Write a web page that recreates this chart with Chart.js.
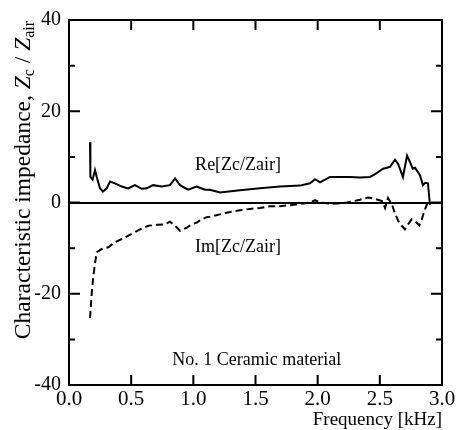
<!DOCTYPE html>
<html>
<head>
<meta charset="utf-8">
<script src="https://cdn.jsdelivr.net/npm/chart.js@4.4.1/dist/chart.umd.min.js"></script>
<style>
  html, body { margin: 0; padding: 0; background: #fff; }
  #wrap { width: 463px; height: 430px; }
</style>
</head>
<body>
<div id="wrap"><canvas id="zcChart" width="463" height="430"></canvas></div>
<script>
// ================================
// Data
// ================================
const freqRe = [0.169, 0.172, 0.190, 0.209, 0.223, 0.249, 0.273, 0.303, 0.330, 0.370,
  0.424, 0.475, 0.531, 0.585, 0.625, 0.676, 0.746, 0.812, 0.853, 0.893,
  0.957, 1.027, 1.094, 1.134, 1.214, 1.375, 1.536, 1.697, 1.858, 1.938,
  1.979, 2.019, 2.099, 2.180, 2.260, 2.340, 2.421, 2.461, 2.526, 2.582,
  2.622, 2.646, 2.686, 2.719, 2.748, 2.764, 2.783, 2.823, 2.847, 2.864,
  2.887, 2.903];
const reZ = [13.2, 5.6, 5.0, 7.1, 5.6, 3.1, 2.4, 3.1, 4.6, 4.2,
  3.5, 3.1, 3.8, 3.0, 3.1, 3.8, 3.5, 3.8, 5.3, 3.8,
  2.8, 3.5, 2.8, 2.8, 2.2, 2.7, 3.1, 3.5, 3.7, 4.2,
  5.1, 4.4, 5.6, 5.6, 5.6, 5.5, 5.6, 6.2, 7.4, 7.8,
  9.4, 8.5, 5.6, 10.3, 8.5, 7.4, 7.6, 6.0, 3.8, 4.3,
  4.2, -0.5];

const freqIm = [0.169, 0.183, 0.195, 0.209, 0.223, 0.263, 0.316, 0.370, 0.424, 0.504,
  0.571, 0.638, 0.705, 0.772, 0.812, 0.853, 0.893, 0.947, 0.987, 1.027,
  1.067, 1.108, 1.134, 1.214, 1.295, 1.375, 1.456, 1.536, 1.617, 1.697,
  1.778, 1.858, 1.938, 1.979, 2.019, 2.123, 2.236, 2.340, 2.405, 2.461,
  2.518, 2.542, 2.566, 2.598, 2.622, 2.649, 2.676, 2.702, 2.729, 2.756,
  2.783, 2.818, 2.837, 2.863, 2.890, 2.903];
const imZ = [-25.3, -19.9, -16.3, -13.4, -10.9, -10.2, -9.8, -8.7, -8.0, -6.9,
  -5.9, -5.1, -4.9, -4.8, -4.2, -5.1, -6.2, -5.5, -4.8, -4.4,
  -3.7, -3.2, -3.1, -2.6, -2.1, -1.7, -1.4, -1.2, -0.8, -0.8,
  -0.6, -0.3, 0.0, 0.5, 0.0, -0.3, 0.0, 0.6, 1.1, 0.8,
  0.3, -1.2, 1.0, -0.5, -2.4, -4.1, -5.1, -5.9, -4.7, -3.7,
  -4.1, -5.0, -3.7, -1.5, 0.3, 0.0];

const xTicks = [0, 0.5, 1.0, 1.5, 2.0, 2.5, 3.0];
const yMajor = [-40, -20, 0, 20, 40];
const yMinor = [-30, -10, 10, 30];

const SERIF = '"Liberation Serif", "Times New Roman", serif';

// ================================
// Frame, inward ticks and labels
// ================================
const framePlugin = {
  id: 'frame',
  afterDraw(chart) {
    const { ctx, chartArea: a, scales: { x, y } } = chart;
    ctx.save();
    ctx.strokeStyle = '#000';
    ctx.lineWidth = 2;
    ctx.strokeRect(a.left, a.top, a.right - a.left, a.bottom - a.top);

    ctx.beginPath();
    xTicks.forEach(v => {
      const px = x.getPixelForValue(v);
      ctx.moveTo(px, a.bottom); ctx.lineTo(px, a.bottom - 10);
      ctx.moveTo(px, a.top); ctx.lineTo(px, a.top + 10);
    });
    yMajor.forEach(v => {
      const py = y.getPixelForValue(v);
      ctx.moveTo(a.left, py); ctx.lineTo(a.left + 11, py);
      ctx.moveTo(a.right, py); ctx.lineTo(a.right - 11, py);
    });
    yMinor.forEach(v => {
      const py = y.getPixelForValue(v);
      ctx.moveTo(a.left, py); ctx.lineTo(a.left + 6, py);
      ctx.moveTo(a.right, py); ctx.lineTo(a.right - 6, py);
    });
    ctx.stroke();

    // curve labels
    ctx.fillStyle = '#000';
    ctx.textAlign = 'center';
    ctx.textBaseline = 'alphabetic';
    ctx.font = '18px ' + SERIF;
    ctx.fillText('Re[Zc/Zair]', x.getPixelForValue(1.36), y.getPixelForValue(7.1));
    ctx.fillText('Im[Zc/Zair]', x.getPixelForValue(1.36), y.getPixelForValue(-10.9));
    ctx.fillText('No. 1 Ceramic material', x.getPixelForValue(1.51), y.getPixelForValue(-35.6));

    // y axis title with italic Z and subscripts
    const size = 23.5;
    const sub = Math.round(size * 0.66);
    const parts = [
      { t: 'Characteristic impedance, ', f: size + 'px ' + SERIF, dy: 0 },
      { t: 'Z', f: 'italic ' + size + 'px ' + SERIF, dy: 0 },
      { t: 'c', f: sub + 'px ' + SERIF, dy: 4 },
      { t: ' / ', f: size + 'px ' + SERIF, dy: 0 },
      { t: 'Z', f: 'italic ' + size + 'px ' + SERIF, dy: 0 },
      { t: 'air', f: sub + 'px ' + SERIF, dy: 4 }
    ];
    let total = 0;
    parts.forEach(p => { ctx.font = p.f; p.w = ctx.measureText(p.t).width; total += p.w; });
    ctx.translate(30, 180);
    ctx.rotate(-Math.PI / 2);
    ctx.textAlign = 'left';
    let cx = -total / 2;
    parts.forEach(p => {
      ctx.font = p.f;
      ctx.fillText(p.t, cx, p.dy);
      cx += p.w;
    });
    ctx.restore();
  }
};

// ================================
// Chart
// ================================
const ctx = document.getElementById('zcChart').getContext('2d');
const zcChart = new Chart(ctx, {
  type: 'line',
  data: {
    datasets: [
      {
        label: 'Re[Zc/Zair]',
        data: freqRe.map((f, i) => ({ x: f, y: reZ[i] })),
        borderColor: '#000',
        borderWidth: 2,
        pointRadius: 0,
        tension: 0
      },
      {
        label: 'Im[Zc/Zair]',
        data: freqIm.map((f, i) => ({ x: f, y: imZ[i] })),
        borderColor: '#000',
        borderWidth: 2,
        borderDash: [7, 4],
        pointRadius: 0,
        tension: 0
      }
    ]
  },
  options: {
    responsive: false,
    animation: false,
    devicePixelRatio: 1,
    layout: { padding: { left: 0, right: 21, top: 14, bottom: 0 } },
    plugins: { legend: { display: false }, tooltip: { enabled: false } },
    scales: {
      x: {
        type: 'linear',
        min: 0,
        max: 3,
        afterFit: s => { s.height = 45; },
        afterBuildTicks: s => { s.ticks = xTicks.map(v => ({ value: v })); },
        ticks: {
          color: '#000',
          padding: 2,
          maxRotation: 0,
          font: { family: SERIF, size: 21 },
          callback: v => v.toFixed(1)
        },
        grid: { display: false, drawTicks: false },
        border: { display: false },
        title: {
          display: true,
          text: 'Frequency [kHz]',
          align: 'end',
          color: '#000',
          padding: { top: 0, bottom: -1 },
          font: { family: SERIF, size: 19 }
        }
      },
      y: {
        min: -40,
        max: 40,
        afterFit: s => { s.width = 69; },
        afterBuildTicks: s => { s.ticks = yMajor.map(v => ({ value: v })); },
        ticks: {
          color: '#000',
          padding: 8,
          font: { family: SERIF, size: 20 },
          callback: v => String(v)
        },
        grid: {
          drawTicks: false,
          lineWidth: 2,
          color: c => (c.tick && c.tick.value === 0 ? '#000' : 'rgba(0,0,0,0)')
        },
        border: { display: false }
      }
    }
  },
  plugins: [framePlugin]
});
</script>
</body>
</html>
